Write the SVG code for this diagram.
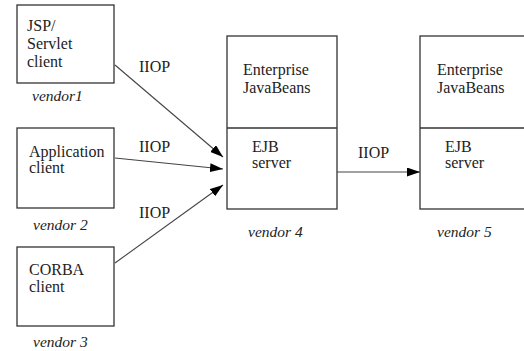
<svg xmlns="http://www.w3.org/2000/svg" width="524" height="351" viewBox="0 0 524 351">
  <defs>
    <marker id="head" viewBox="0 0 13 9" refX="13" refY="4.5" markerWidth="13" markerHeight="9" markerUnits="userSpaceOnUse" orient="auto">
      <path d="M0,0 L13,4.5 L0,9 z" fill="#000"/>
    </marker>
    <style>
      .box { fill: #fff; stroke: #333; stroke-width: 1.3; }
      .lbl { font-size: 16px; fill: #222; }
      .ven { font-size: 15.5px; font-style: italic; fill: #222; }
      .link { fill: none; stroke: #444; stroke-width: 1.1; marker-end: url(#head); }
    </style>
  </defs>
  <rect width="524" height="351" fill="#fff"/>

  <g font-family="Liberation Serif, DejaVu Serif, Times New Roman, serif">
  <g id="jsp-client">
    <rect class="box" x="17" y="5" width="97" height="78"/>
    <text class="lbl" x="27" y="31">JSP/</text>
    <text class="lbl" x="27" y="49">Servlet</text>
    <text class="lbl" x="27" y="67">client</text>
    <text class="ven" x="32" y="101">vendor1</text>
  </g>

  <g id="app-client">
    <rect class="box" x="17" y="128" width="97" height="80"/>
    <text class="lbl" x="29" y="157">Application</text>
    <text class="lbl" x="29" y="173">client</text>
    <text class="ven" x="33" y="230">vendor 2</text>
  </g>

  <g id="corba-client">
    <rect class="box" x="17" y="247" width="97" height="79"/>
    <text class="lbl" x="29" y="275">CORBA</text>
    <text class="lbl" x="29" y="292">client</text>
    <text class="ven" x="33" y="347">vendor 3</text>
  </g>

  <g id="ejb-server-4">
    <rect class="box" x="227" y="36" width="110" height="173"/>
    <line x1="227" y1="128" x2="337" y2="128" stroke="#333" stroke-width="1.3"/>
    <text class="lbl" x="243" y="75">Enterprise</text>
    <text class="lbl" x="243" y="93">JavaBeans</text>
    <text class="lbl" x="252" y="152">EJB</text>
    <text class="lbl" x="252" y="168">server</text>
    <text class="ven" x="248" y="237">vendor 4</text>
  </g>

  <g id="ejb-server-5">
    <rect class="box" x="420" y="36" width="115" height="173"/>
    <line x1="420" y1="128" x2="535" y2="128" stroke="#333" stroke-width="1.3"/>
    <text class="lbl" x="437" y="75">Enterprise</text>
    <text class="lbl" x="437" y="93">JavaBeans</text>
    <text class="lbl" x="445" y="152">EJB</text>
    <text class="lbl" x="445" y="168">server</text>
    <text class="ven" x="437" y="237">vendor 5</text>
  </g>

  <g id="connectors">
    <line class="link" x1="115" y1="65" x2="223" y2="157"/>
    <line class="link" x1="115" y1="158" x2="223" y2="169"/>
    <line class="link" x1="115" y1="263" x2="223" y2="185"/>
    <line class="link" x1="337" y1="172" x2="420" y2="172"/>
    <text class="lbl" x="139" y="72">IIOP</text>
    <text class="lbl" x="139" y="152">IIOP</text>
    <text class="lbl" x="139" y="218">IIOP</text>
    <text class="lbl" x="358" y="158">IIOP</text>
  </g>
  </g>
</svg>
